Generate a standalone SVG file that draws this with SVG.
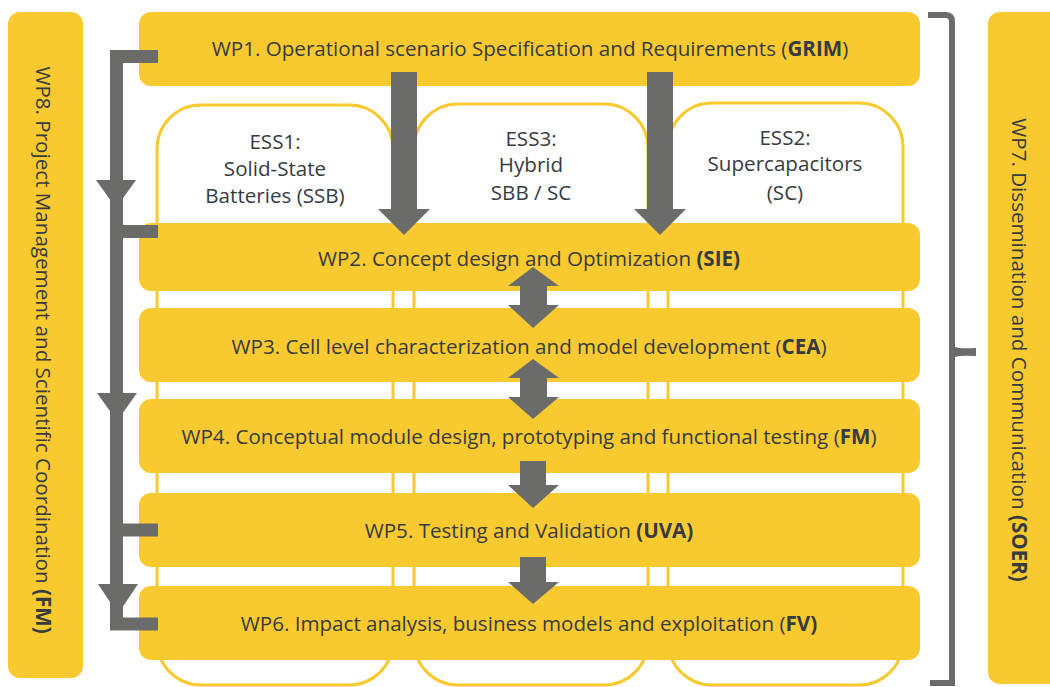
<svg xmlns="http://www.w3.org/2000/svg" width="1050" height="687" viewBox="0 0 1050 687">
<style>
.wp{fill:#F9C930}
.col{fill:#fff;stroke:#F9C930;stroke-width:3}
.t{font-family:"Open Sans","Liberation Sans",sans-serif;font-size:20.6px;fill:#363b3f;text-anchor:middle;dominant-baseline:central}
.b{font-weight:bold}
.ar{fill:#6B6C6A}
.ln{fill:none;stroke:#6B6C6A}
</style>
<rect width="1050" height="687" fill="#fff"/>
<g id="wp8"><rect class="wp" x="8" y="12" width="75" height="666" rx="12"/>
<text class="t" transform="translate(44,350) rotate(90)">WP8. Project Management and Scientific Coordination <tspan class="b">(FM)</tspan></text></g>
<g id="wp7"><rect class="wp" x="988" y="12" width="80" height="672" rx="12"/>
<text class="t" transform="translate(1020,350) rotate(90)">WP7. Dissemination and Communication <tspan class="b">(SOER)</tspan></text></g>
<g id="ess1"><rect class="col" x="157" y="105" width="236" height="580" rx="44"/>
<text class="t" x="275" y="141">ESS1:</text><text class="t" x="275" y="168">Solid-State</text><text class="t" x="275" y="195">Batteries (SSB)</text></g>
<g id="ess3"><rect class="col" x="414" y="104" width="234" height="581" rx="44"/>
<text class="t" x="531" y="138">ESS3:</text><text class="t" x="531" y="164">Hybrid</text><text class="t" x="531" y="192">SBB / SC</text></g>
<g id="ess2"><rect class="col" x="668" y="103" width="235" height="582" rx="44"/>
<text class="t" x="785" y="137">ESS2:</text><text class="t" x="785" y="163">Supercapacitors</text><text class="t" x="785" y="192">(SC)</text></g>
<g id="wp1"><rect class="wp" x="139" y="12" width="781" height="74" rx="12"/>
<text class="t" x="530" y="48">WP1. Operational scenario Specification and Requirements (<tspan class="b">GRIM</tspan>)</text></g>
<g id="wp2"><rect class="wp" x="139" y="223" width="781" height="68" rx="12"/>
<text class="t" x="529" y="258">WP2. Concept design and Optimization <tspan class="b">(SIE)</tspan></text></g>
<g id="wp3"><rect class="wp" x="139" y="308" width="781" height="74" rx="12"/>
<text class="t" x="529" y="346">WP3. Cell level characterization and model development (<tspan class="b">CEA</tspan>)</text></g>
<g id="wp4"><rect class="wp" x="139" y="399" width="781" height="74" rx="12"/>
<text class="t" x="529" y="436">WP4. Conceptual module design, prototyping and functional testing (<tspan class="b">FM</tspan>)</text></g>
<g id="wp5"><rect class="wp" x="139" y="493" width="781" height="74" rx="12"/>
<text class="t" x="529" y="530">WP5. Testing and Validation <tspan class="b">(UVA)</tspan></text></g>
<g id="wp6"><rect class="wp" x="139" y="586" width="781" height="74" rx="12"/>
<text class="t" x="529" y="623">WP6. Impact analysis, business models and exploitation (<tspan class="b">FV)</tspan></text></g>
<g id="connectors">
<polygon class="ar" points="391,72 417,72 417,209 430,209 404,235 378,209 391,209"/>
<polygon class="ar" points="647,72 673,72 673,209 686,209 660,235 634,209 647,209"/>
<polygon class="ar" points="533,267 559,286 547,286 547,305 559,305 533,328 508,305 520,305 520,286 508,286"/>
<polygon class="ar" points="533,359 559,378 547,378 547,397 559,397 533,419 508,397 520,397 520,378 508,378"/>
<polygon class="ar" points="520,461 546,461 546,485 559,485 533,508 508,485 520,485"/>
<polygon class="ar" points="520,557 546,557 546,582 559,582 533,604 508,582 520,582"/>
<path class="ln" stroke-width="13" d="M158,56.5 H116.5 V624 H158 M158,231.5 H116.5 M158,530 H116.5"/>
<polygon class="ar" points="96,180 136,180 116,208"/>
<polygon class="ar" points="97,393 137,393 117,421"/>
<polygon class="ar" points="98,584 138,584 118,614"/>
<path class="ln" stroke-width="6" d="M928,15 H946 Q952,15 952,22 V683 H930"/>
<path class="ar" d="M955,347 Q960,349 976,348 V356 Q960,355 955,357 Z"/>
</g>
</svg>
